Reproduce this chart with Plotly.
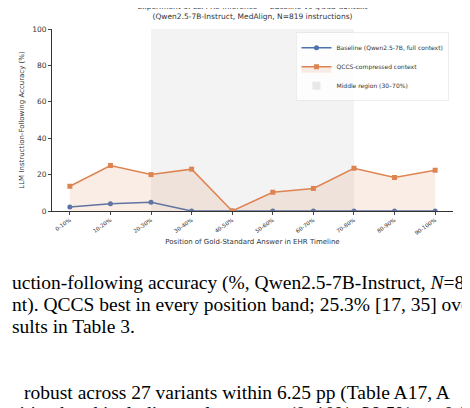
import plotly.graph_objects as go

positions = ["0-10%", "10-20%", "20-30%", "30-40%", "40-50%",
             "50-60%", "60-70%", "70-80%", "80-90%", "90-100%"]
baseline = [2.2, 4.0, 4.8, 0, 0, 0, 0, 0, 0, 0]
qccs = [13.6, 25.0, 20.0, 23.0, 0, 10.3, 12.4, 23.5, 18.4, 22.4]

caption = [
    "uction-following accuracy (%, Qwen2.5-7B-Instruct, <i>N</i>=83",
    "nt). QCCS best in every position band; 25.3% [17, 35] overa",
    "sults in Table 3.",
    "robust across 27 variants within 6.25 pp (Table A17, A",
    "sition band including early-context (0–10%; 38.5% vs. 0.0",
]
caption_y = [275, 297, 318, 385, 406]
caption_x = [2, 2, 2, 14, 2]

fig = go.Figure()

fig.add_trace(go.Scatter(
    x=list(range(10)), y=baseline, mode="lines+markers",
    name="Baseline (Qwen2.5-7B, full context)",
    line=dict(color="#4c72b0", width=1.5), marker=dict(symbol="circle", size=5),
))
fig.add_trace(go.Scatter(
    x=list(range(10)), y=qccs, mode="lines+markers", fill="tozeroy",
    fillcolor="rgba(221,132,82,0.15)",
    name="QCCS-compressed context",
    line=dict(color="#dd8452", width=1.5), marker=dict(symbol="square", size=5),
))
# legend entry for shaded band
fig.add_trace(go.Scatter(
    x=[None], y=[None], mode="markers", name="Middle region (30–70%)",
    marker=dict(symbol="square", size=8, color="rgba(200,200,200,0.4)"),
))

fig.add_vrect(x0=2, x1=7, fillcolor="rgba(160,160,160,0.12)", line_width=0, layer="below")

# plot area spans y pixels 21..203
for text, py, px in zip(caption, caption_y, caption_x):
    fig.add_annotation(
        text=text, xref="paper", yref="paper", x=(px - 44) / 401, y=(203 - py) / 182,
        xanchor="left", yanchor="middle", showarrow=False,
        font=dict(family="Liberation Serif", size=19.5, color="black"),
    )

fig.update_layout(
    width=470, height=408,
    margin=dict(l=44, r=25, t=21, b=205, autoexpand=False),
    plot_bgcolor="white", paper_bgcolor="white",
    font=dict(family="DejaVu Sans", size=7, color="#333"),
    title=dict(
        text="Experiment 3: LLM Re-inference — Baseline vs QCCS Context<br>(Qwen2.5-7B-Instruct, MedAlign, N=819 instructions)",
        x=0.5, xref="paper", y=0.998, yanchor="top", font=dict(size=7.5),
    ),
    legend=dict(x=0.99, y=0.98, xanchor="right", yanchor="top",
                bordercolor="#ddd", borderwidth=0.5, bgcolor="rgba(255,255,255,0.8)",
                font=dict(size=6), tracegroupgap=0, itemwidth=30),
    xaxis=dict(
        tickmode="array", tickvals=list(range(10)), ticktext=positions,
        range=[-0.44, 9.44], tickangle=-35, tickfont=dict(size=5.5),
        showline=True, linecolor="#333", ticks="outside", ticklen=3,
        showgrid=False, zeroline=False, automargin=False,
        title=dict(text="Position of Gold-Standard Answer in EHR Timeline", font=dict(size=7), standoff=4),
    ),
    yaxis=dict(
        range=[0, 100], dtick=20, showline=True, linecolor="#333",
        ticks="outside", ticklen=3, showgrid=False, zeroline=False, automargin=False,
        tickfont=dict(size=7.5),
        title=dict(text="LLM Instruction-Following Accuracy (%)", font=dict(size=7), standoff=6),
    ),
)

fig.write_html("out.html")
